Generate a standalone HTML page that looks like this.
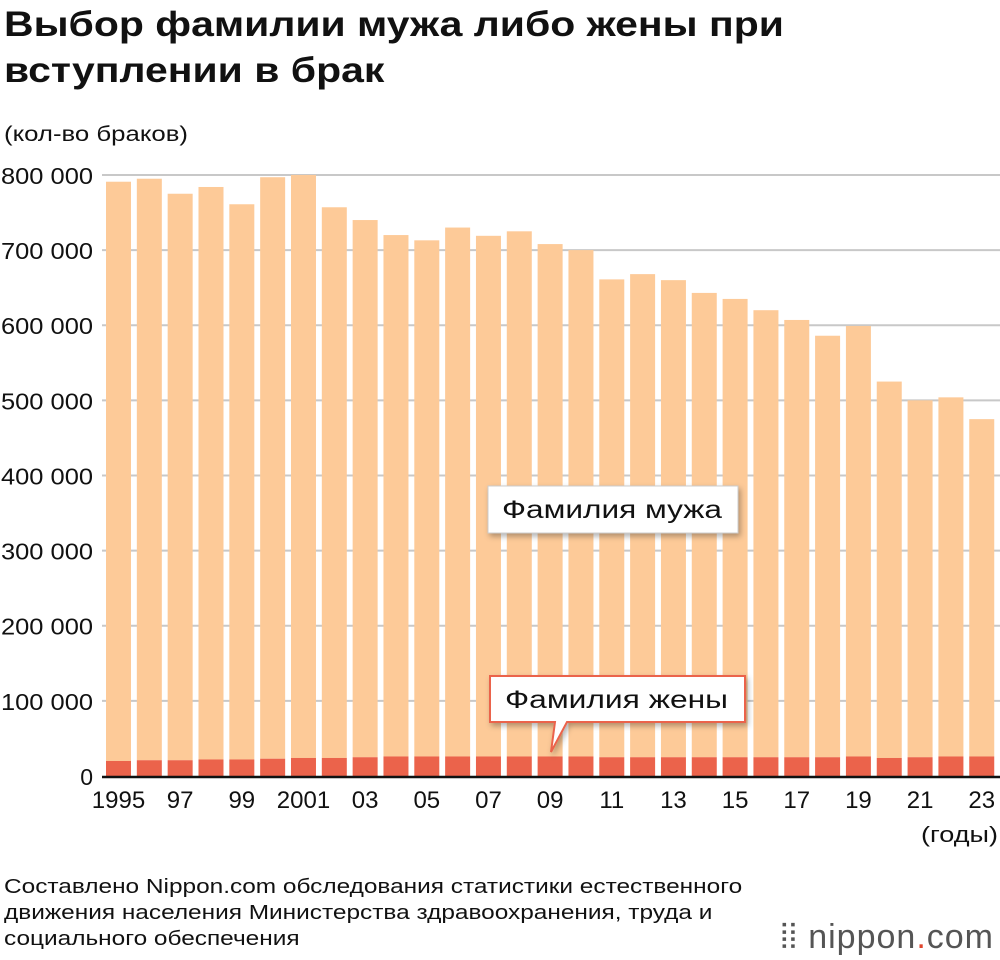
<!DOCTYPE html>
<html><head><meta charset="utf-8"><style>
body{margin:0;width:1000px;height:960px;background:#fff;font-family:"Liberation Sans",sans-serif;position:relative;overflow:hidden}
.t{position:absolute;left:4px;top:2px;font-size:35px;font-weight:bold;line-height:46px;color:#111;transform:scaleX(1.17);transform-origin:0 0;white-space:nowrap}
.f{position:absolute;left:4px;top:874px;font-size:20px;line-height:26px;color:#111;transform:scaleX(1.22);transform-origin:0 0;white-space:nowrap}
.logo{position:absolute;right:6px;top:918px;font-size:34px;color:#555;letter-spacing:1px}
</style></head><body>
<div class="t">Выбор фамилии мужа либо жены при<br>вступлении в брак</div>
<svg width="1000" height="960" style="position:absolute;left:0;top:0" id="c">
<defs><filter id="sh" x="-10%" y="-20%" width="130%" height="160%"><feDropShadow dx="2" dy="3" stdDeviation="3" flood-opacity="0.3"/></filter></defs>
<g id="grid"></g><g id="bars"></g><g id="ax"></g>
</svg>
<div class="f">Составлено Nippon.com обследования статистики естественного<br>движения населения Министерства здравоохранения, труда и<br>социального обеспечения</div>
<div class="logo">⦙⦙ nippon<span style="color:#e0462e">.</span>com</div>
<script>
const years=[1995,1996,1997,1998,1999,2000,2001,2002,2003,2004,2005,2006,2007,2008,2009,2010,2011,2012,2013,2014,2015,2016,2017,2018,2019,2020,2021,2022,2023];
const totals=[791,795,775,784,761,797,800,757,740,720,713,730,719,725,708,700,661,668,660,643,635,620,607,586,599,525,500,504,475];
const wife=[20,21,21,22,22,23,24,24,25,26,26,26,26,26,26,26,25,25,25,25,25,25,25,25,26,24,25,26,26];
const yTicks=[0,100,200,300,400,500,600,700,800];
const yTickLabels=["0","100 000","200 000","300 000","400 000","500 000","600 000","700 000","800 000"];
const xLabels=["1995","97","99","2001","03","05","07","09","11","13","15","17","19","21","23"];
const NS="http://www.w3.org/2000/svg";
const y0=776,k=0.7513,x0=106,pitch=30.83,bw=25;
const Y=v=>y0-v*k, X=i=>x0+i*pitch;
function mk(p,tag,a,txt){const e=document.createElementNS(NS,tag);for(const q in a)e.setAttribute(q,a[q]);if(txt!=null)e.textContent=txt;p.appendChild(e);return e;}
const g=document.getElementById('grid'),b=document.getElementById('bars'),ax=document.getElementById('ax');
yTicks.forEach((t,i)=>{
 if(t>0){const l=mk(g,'line',{x1:102,x2:1000,y1:Y(t),y2:Y(t),stroke:'#c8c8c8','stroke-width':2});
 
 }
 const a={x:93,y:Y(t)+9,'text-anchor':'end','font-size':23,fill:'#111'};
 if(t>0){a.textLength=92;a.lengthAdjust='spacingAndGlyphs';}
 const tx=mk(ax,'text',a,yTickLabels[i]);
 
 
});
years.forEach((yr,i)=>{
 const h=mk(b,'rect',{x:X(i),y:Y(totals[i]),width:bw,height:(totals[i]-wife[i])*k,fill:'#fdca98'});
 
 
 const w=mk(b,'rect',{x:X(i),y:Y(wife[i]),width:bw,height:wife[i]*k,fill:'#eb634b'});
 
 
 if(i%2==0){const t=mk(ax,'text',{x:X(i)+bw/2,y:808,'text-anchor':'middle','font-size':24,fill:'#111'},xLabels[i/2]);
 
 }
});
const axl=mk(ax,'line',{x1:102,x2:1000,y1:y0+1,y2:y0+1,stroke:'#111','stroke-width':2.5});


const u1=mk(ax,'text',{x:4,y:141,'font-size':21,fill:'#111',textLength:184,lengthAdjust:'spacingAndGlyphs'},'(кол-во браков)');


const u2=mk(ax,'text',{x:921,y:842,'font-size':22,fill:'#111',textLength:77,lengthAdjust:'spacingAndGlyphs'},'(годы)');


const c1=mk(ax,'rect',{x:488,y:486,width:250,height:47,fill:'#fff',stroke:'#ccc','stroke-width':1,filter:'url(#sh)'});


const t1=mk(ax,'text',{x:502,y:518,'font-size':25,fill:'#111',textLength:220,lengthAdjust:'spacingAndGlyphs'},'Фамилия мужа');


const c2=mk(ax,'path',{d:'M490 676 H745 V722 H567 L551 752 L555 722 H490 Z',fill:'#fff',stroke:'#eb634b','stroke-width':2,filter:'url(#sh)'});


const t2=mk(ax,'text',{x:505,y:708,'font-size':25,fill:'#111',textLength:223,lengthAdjust:'spacingAndGlyphs'},'Фамилия жены');


</script>
</body></html>
